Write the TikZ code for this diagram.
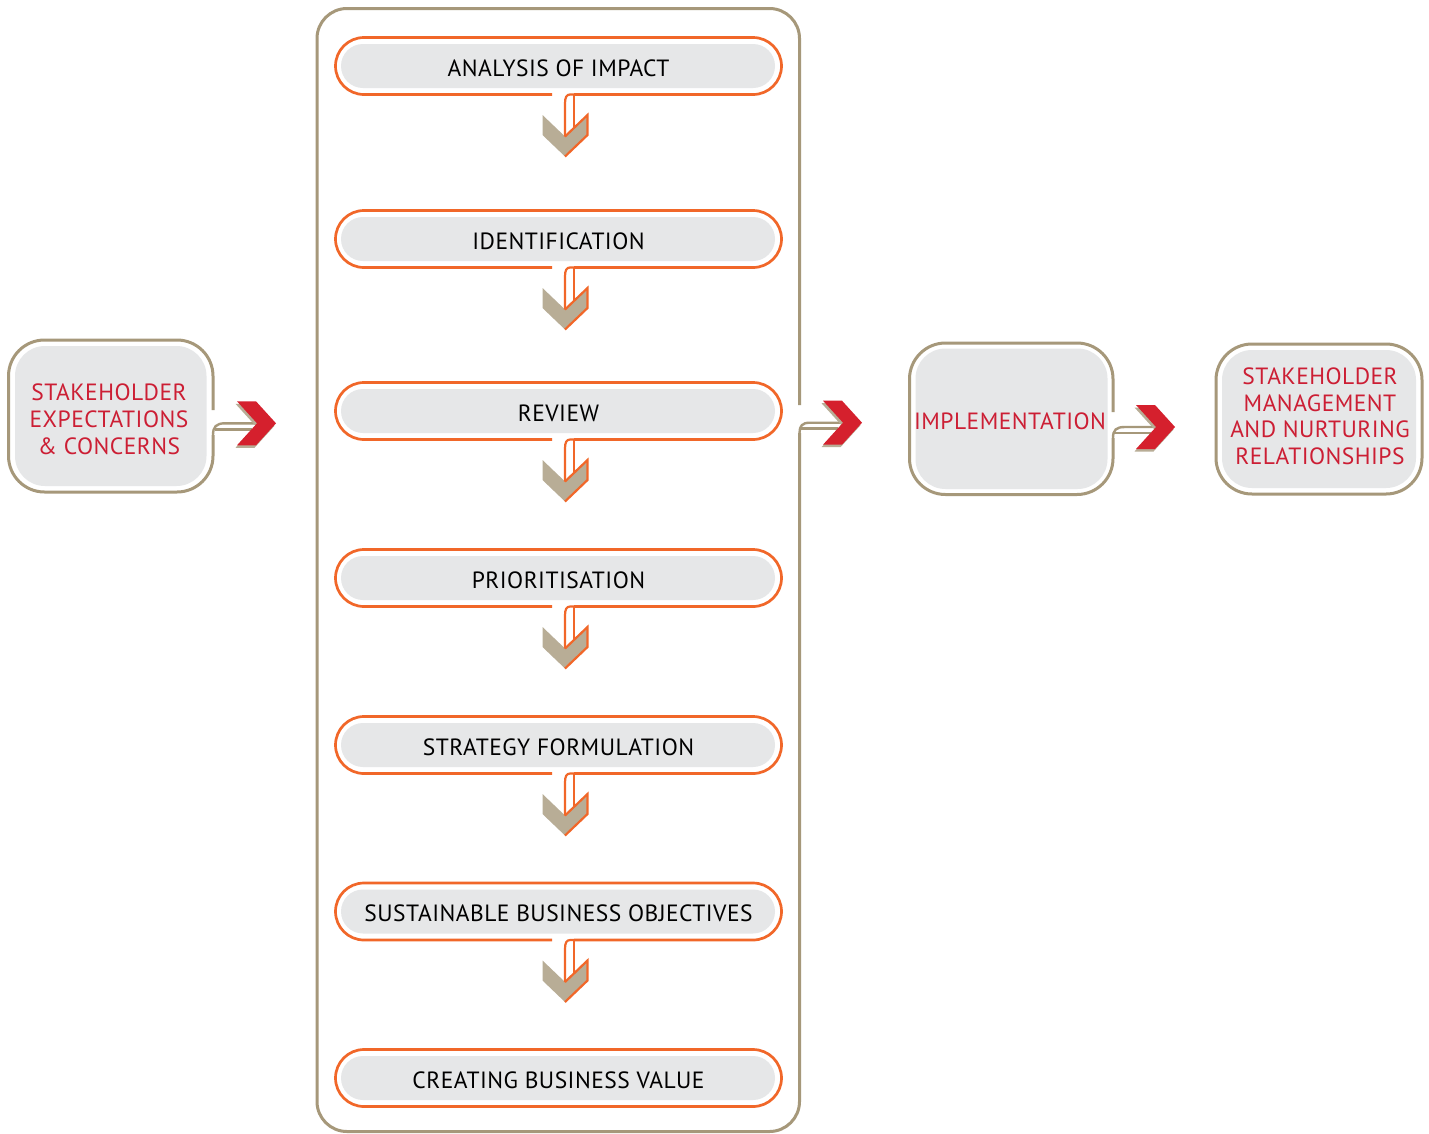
\documentclass[tikz,border=0pt]{standalone}
\usepackage{fontspec}
\setmainfont[LetterSpace=2]{PT Sans}
\definecolor{frame}{RGB}{166,152,122}
\definecolor{chev}{RGB}{184,173,150}
\definecolor{accent}{RGB}{241,103,41}
\definecolor{arrowred}{RGB}{213,32,45}
\definecolor{labelred}{RGB}{204,30,52}
\definecolor{boxgray}{RGB}{230,231,232}
\tikzset{
  frameline/.style={draw=frame, line width=3pt},
  bandline/.style={draw=frame, line width=2.4pt},
  orangeline/.style={draw=accent, line width=2.7pt},
  tailline/.style={draw=accent, line width=2.2pt},
  steptext/.style={font=\fontsize{23.5}{27}\selectfont, text=black, inner sep=0pt,
    text height=16.45pt, text depth=0pt},
  sidetext/.style={font=\fontsize{23.5}{27}\selectfont, text=labelred, inner sep=0pt,
    align=center, text height=16.45pt, text depth=0pt},
  redchev/.pic={
    \fill[chev] (-21.5,-19.5) -- (-2.5,-19.5) -- (17.5,2.5) -- (-2.5,24.5) -- (-21.5,24.5) -- (-1.5,2.5) -- cycle;
    \fill[arrowred] (-20,-22) -- (-1,-22) -- (19,0) -- (-1,22) -- (-20,22) -- (0,0) -- cycle;
  }
}
\begin{document}
\begin{tikzpicture}[x=1pt,y=-1pt]
\useasboundingbox (0,0) rectangle (1429,1133);
\fill[white] (0,0) rectangle (1429,1133);

% process frame with its exit tail
\draw[frameline, rounded corners=30pt] (799.5,405) -- (799.5,8.5) -- (317,8.5) -- (317,1131.5) -- (799.5,1131.5) -- (799.5,433);
\coordinate (exitA) at (843,422.7);
\coordinate (exitB) at (838,428.3);
\draw[bandline] (799.5,433) .. controls (799.5,426) and (802,422.7) .. (810,422.7) -- (exitA);
\draw[bandline] (800.8,428.3) -- (exitB);
\pic at (exitA) {redchev};

% process steps
\foreach \c/\name/\txt/\more in {66/s1/ANALYSIS OF IMPACT/1, 239/s2/IDENTIFICATION/1, 411/s3/REVIEW/1,
    578/s4/PRIORITISATION/1, 745/s5/STRATEGY FORMULATION/1, 911.5/s6/SUSTAINABLE BUSINESS OBJECTIVES/1,
    1078/s7/CREATING BUSINESS VALUE/0}{
  \pgfmathsetmacro\B{\c+28.5}
  \fill[boxgray, rounded corners=22pt] (341,\c-22) rectangle (775,\c+22);
  \node[steptext] (\name) at (558.5,\c+2) {\txt};
  \ifnum\more=1
    \draw[orangeline, rounded corners=28.5pt] (574,\B) -- (781.5,\B) -- (781.5,\c-28.5) -- (335.5,\c-28.5) -- (335.5,\B) -- (552,\B);
    \fill[chev] (542.5,\B+20.5) -- (565,\B+42) -- (587.5,\B+20.5) -- (587.5,\B+40.5) -- (565,\B+62) -- (542.5,\B+40.5) -- cycle;
    \draw[tailline] (574,\B) -- (570,\B) .. controls (566.5,\B) and (565,\B+3) .. (565,\B+9) -- (565,\B+42);
    \draw[tailline] (574,\B) -- (574,\B+33.4);
    \draw[tailline, line join=miter] (565,\B+42) -- (587.5,\B+20.5) -- (587.5,\B+40.5) -- (565,\B+62);
  \else
    \draw[orangeline, rounded corners=28.5pt] (335.5,\c-28.5) rectangle (781.5,\B);
  \fi
}

% stakeholder expectations box
\fill[boxgray, rounded corners=30pt] (15,346) rectangle (206.5,486);
\draw[frameline, rounded corners=36pt] (213,410) -- (213,340) -- (8.5,340) -- (8.5,492) -- (213,492) -- (213,435);
\node[sidetext, text height=70.45pt] (expect) at (109,419) {STAKEHOLDER\\EXPECTATIONS\\\& CONCERNS};
\coordinate (inA) at (257,423.3);
\coordinate (inB) at (251.7,429.3);
\draw[bandline] (213,435) .. controls (213,427) and (216,423.3) .. (225,423.3) -- (inA);
\draw[bandline] (214.5,429.3) -- (inB);
\pic at (inA) {redchev};

% implementation box
\fill[boxgray, rounded corners=30pt] (915.5,348.5) rectangle (1107.5,489);
\draw[frameline, rounded corners=36pt] (1113,412) -- (1113,343) -- (909.5,343) -- (909.5,494.5) -- (1113,494.5) -- (1113,438);
\node[sidetext] (impl) at (1010,421) {IMPLEMENTATION};
\coordinate (outA) at (1156,427);
\coordinate (outB) at (1150.7,433);
\draw[bandline] (1113,438) .. controls (1113,430) and (1116,427) .. (1125,427) -- (outA);
\draw[bandline] (1114.3,433) -- (outB);
\pic at (outA) {redchev};

% stakeholder management box
\fill[boxgray, rounded corners=30pt] (1222,350) rectangle (1416,488);
\draw[frameline, rounded corners=36pt] (1216,344) rectangle (1422,494);
\node[sidetext, font=\fontsize{23.5}{26.5}\selectfont, text height=95.95pt] (manage) at (1320,416.5) {STAKEHOLDER\\MANAGEMENT\\AND NURTURING\\RELATIONSHIPS};
\end{tikzpicture}
\end{document}
